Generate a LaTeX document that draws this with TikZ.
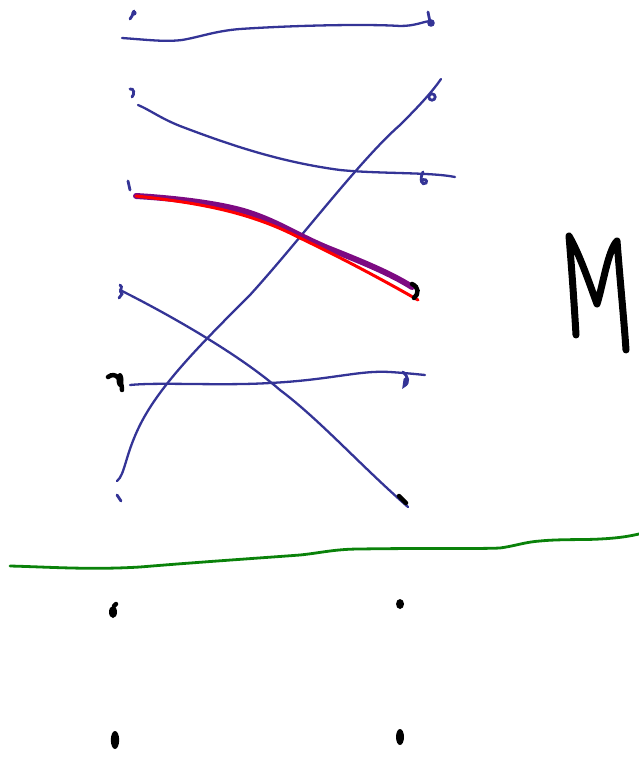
\documentclass[tikz,border=0pt]{standalone}
\usetikzlibrary{calc}
\definecolor{pen}{RGB}{52,52,150}
\definecolor{grn}{RGB}{10,130,10}
\definecolor{prp}{RGB}{125,10,130}
\tikzset{
  ink/.style={draw=pen, line width=2.3pt, line cap=round, line join=round},
  bluemark/.style={draw=pen, line width=2.8pt, line cap=round},
  blackmark/.style={draw=black, line width=4.5pt, line cap=round},
}
\begin{document}
\begin{tikzpicture}[x=1pt,y=-1pt]
\useasboundingbox (0,0) rectangle (639,760);
% endpoints
\coordinate (L0) at (122,38);   \coordinate (R0) at (430,21);
\coordinate (L1) at (138,105);  \coordinate (R1) at (455,177);
\coordinate (L2) at (136,196);  \coordinate (R2) at (418,300);
\coordinate (L3) at (120,290);  \coordinate (R3) at (408,507);
\coordinate (L4) at (130,385);  \coordinate (R4) at (425,375);
\coordinate (L5) at (117,481);  \coordinate (R5) at (441,79);
% connectors
\draw[ink] (L0) .. controls (150,40) and (165,42) .. (182,40)
  .. controls (200,37) and (215,31) .. (240,29)
  .. controls (300,25) and (370,24) .. (400,26)
  .. controls (415,26) and (422,22) .. (R0);
\draw[ink] (L1) .. controls (150,110) and (160,118) .. (180,126)
  .. controls (230,145) and (280,162) .. (340,170)
  .. controls (380,174) and (430,172) .. (R1);
\draw[ink] (L5) .. controls (125,475) and (125,455) .. (140,425)
  .. controls (160,385) and (200,345) .. (250,295)
  .. controls (300,240) and (360,160) .. (400,125)
  .. controls (420,105) and (432,92) .. (R5);
\draw[ink] (L3) .. controls (170,315) and (240,355) .. (280,390)
  .. controls (320,420) and (360,465) .. (R3);
\draw[ink] (L4) .. controls (160,382) and (220,386) .. (270,383)
  .. controls (330,380) and (360,370) .. (390,372)
  .. controls (405,373) and (415,374) .. (R4);
% highlighted pair
\draw[draw=prp, line width=6pt, line cap=round, line join=round]
  (L2) .. controls (170,198) and (220,203) .. (250,213)
  .. controls (280,223) and (300,237) .. (330,249)
  .. controls (360,261) and (390,273) .. (412,287);
\draw[draw=red, line width=3pt, line cap=round]
  (L2) .. controls (200,203) and (250,212) .. (300,238)
  .. controls (350,262) and (390,284) .. (R2);
% small hand-written marks, left column
\draw[bluemark] (134,11) -- (132,16) -- (130,19);
\fill[pen] (134,13) circle (2.6);
\draw[bluemark] (130,89) .. controls (134,88) and (135,94) .. (132,97);
\draw[bluemark] (128,181) -- (130,190);
\draw[bluemark] (120,285) .. controls (124,287) and (118,291) .. (122,294) -- (119,298);
\fill[black] (120,380) ellipse (3.5 and 7);
\draw[blackmark] (108,377) .. controls (116,371) and (122,380) .. (122,390);
\draw[bluemark] (117,495) -- (121,501);
% right column marks
\draw[bluemark] (428,12) -- (430,22);
\fill[pen] (431,23) circle (3.8);
\draw[bluemark] (432,97) circle (3.2);
\draw[bluemark] (423,172) .. controls (419,180) and (422,186) .. (426,183) .. controls (428,180) and (424,178) .. (422,181);
\draw[blackmark] (412,284) .. controls (419,287) and (419,294) .. (414,298);
\draw[bluemark] (403,372) .. controls (408,376) and (410,383) .. (404,386) -- (405,379);
\draw[blackmark] (399,496) -- (406,503);
% green separator
\draw[draw=grn, line width=2.8pt, line cap=round, line join=round]
  (10,566) .. controls (50,567) and (90,570) .. (140,567)
  .. controls (200,562) and (260,558) .. (300,555)
  .. controls (320,553) and (335,549) .. (360,549)
  .. controls (420,548) and (480,549) .. (500,548)
  .. controls (515,546) and (525,542) .. (540,541)
  .. controls (560,539) and (585,540) .. (600,539)
  .. controls (620,538) and (630,536) .. (639,534);
% big letter M
\draw[draw=black, line width=7pt, line cap=round, line join=round]
  (576,335) .. controls (574,300) and (571,260) .. (569,236)
  .. controls (580,255) and (590,285) .. (597,304)
  .. controls (603,285) and (608,250) .. (617,241)
  .. controls (620,280) and (624,320) .. (626,350);
% marks below the line
\fill[black] (113,612) ellipse (4 and 6);
\draw[blackmark] (114,606) -- (116,604);
\fill[black] (400,604) ellipse (4 and 5);
\fill[black] (115,740) ellipse (4.2 and 9);
\fill[black] (400,737) ellipse (4 and 8);
\end{tikzpicture}
\end{document}
